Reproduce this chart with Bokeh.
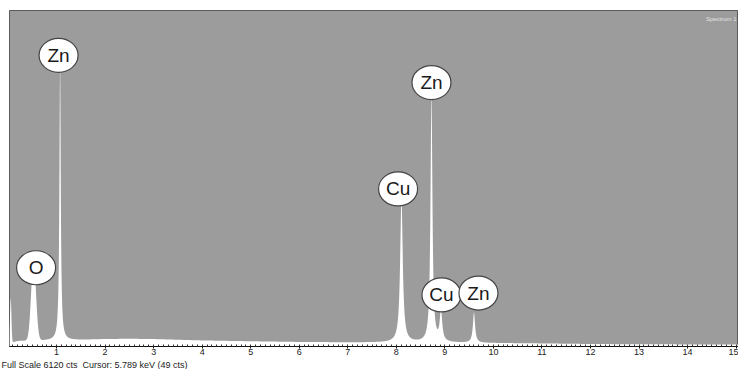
import numpy as np
from bokeh.plotting import figure
from bokeh.models import Range1d, LinearAxis, FixedTicker, Label, ColumnDataSource, Title
from bokeh.embed import file_html
from bokeh.resources import INLINE
from bokeh.core.properties import value

# ---------------- data ----------------
FULL_SCALE = 6120                      # cts, top of the plot
E_MIN, E_MAX = 0.03, 15.05             # keV shown

tick_keV = [1, 2, 3, 4, 5, 6, 7, 8, 9, 10, 11, 12, 13, 14, 15]
tick_labels = [str(t) for t in tick_keV]

# background (continuum) counts
cont_keV = [0.03, 0.2, 0.5, 1.0, 1.5, 2.0, 2.5, 3.0, 4.0, 5.0, 6.0, 7.0, 8.0,
            9.0, 10.0, 11.0, 12.0, 13.0, 14.0, 15.0, 15.4]
cont_cts = [60, 100, 105, 110, 120, 135, 140, 135, 110, 95, 82, 75, 70,
            66, 62, 55, 45, 40, 38, 36, 35]

# peaks: centre (keV), height above continuum (cts), width (keV), lorentzian?
peak_keV = [0.055, 0.526, 1.072, 8.106, 8.724, 8.92, 9.60]
peak_cts = [800, 1450, 5000, 2620, 4500, 560, 550]
peak_width = [0.015, 0.05, 0.017, 0.032, 0.024, 0.03, 0.027]
peak_lorentz = [0, 0, 1, 1, 1, 1, 1]

# element labels
label_text = ["O", "Zn", "Cu", "Zn", "Cu", "Zn"]
label_keV = [0.578, 1.041, 8.036, 8.724, 8.93, 9.692]
label_cts = [1434, 5303, 2870, 4807, 939, 974]

footer_text = "Full Scale 6120 cts\u00a0 Cursor: 5.789 keV (49 cts)"
spectrum_name = "Spectrum 1"

# ---------------- spectrum curve from the peak table ----------------
energy = np.linspace(E_MIN, E_MAX, 8000)
counts = np.interp(energy, cont_keV, cont_cts)
for c, h, w, lor in zip(peak_keV, peak_cts, peak_width, peak_lorentz):
    if lor:
        counts = counts + h / (1.0 + ((energy - c) / w) ** 2)
    else:
        counts = counts + h * np.exp(-0.5 * ((energy - c) / w) ** 2)
spec = ColumnDataSource(dict(e=energy, c=counts, z=np.zeros_like(energy)))

# ---------------- figure ----------------
p = figure(width=738, height=369, x_range=Range1d(E_MIN, E_MAX),
           y_range=Range1d(0, FULL_SCALE), output_backend="svg",
           toolbar_location=None, x_axis_location=None, y_axis_location=None,
           min_border_left=9, min_border_right=0, min_border_top=10,
           min_border_bottom=0)
p.background_fill_color = "#9c9c9c"
p.border_fill_color = "white"
p.outline_line_color = "#5a5a5a"
p.grid.visible = False

p.varea(x="e", y1="z", y2="c", source=spec, fill_color="white")

ax = LinearAxis(ticker=FixedTicker(ticks=tick_keV,
                                   minor_ticks=[round(0.1 * i, 1) for i in range(1, 151)]),
                major_label_overrides={t: s for t, s in zip(tick_keV, tick_labels)})
ax.axis_line_color = "#111111"
ax.major_tick_line_color = "#111111"
ax.minor_tick_line_color = "#333333"
ax.major_tick_in = 0
ax.major_tick_out = 2
ax.minor_tick_in = 2
ax.minor_tick_out = 0
ax.major_label_standoff = 0
ax.major_label_text_font = "Liberation Sans"
ax.major_label_text_font_size = "9px"
ax.major_label_text_color = "#222222"
p.add_layout(ax, "below")

footer = Title(text=footer_text, align="left", offset=-8, standoff=0,
               text_font="Liberation Sans", text_font_size="9px",
               text_font_style="normal", text_color="#222222")
p.add_layout(footer, "below")

lab = ColumnDataSource(dict(x=label_keV, y=label_cts, t=label_text))
p.ellipse(x="x", y="y", width=39, height=34, width_units="screen",
          height_units="screen", source=lab, fill_color="white",
          line_color="#444444", line_width=1.2)
p.text(x="x", y="y", text="t", source=lab, text_align="center",
       text_baseline="middle", text_font=value("Liberation Sans"),
       text_font_size="19px", text_color="#1a1a1a")

p.add_layout(Label(x=E_MAX - 0.04, y=FULL_SCALE * 0.985, text=spectrum_name,
                   text_font="Liberation Sans", text_font_size="6px",
                   text_color="#e4e4e4", text_baseline="top", text_align="right"))

open("out.html", "w").write(file_html(p, INLINE))
